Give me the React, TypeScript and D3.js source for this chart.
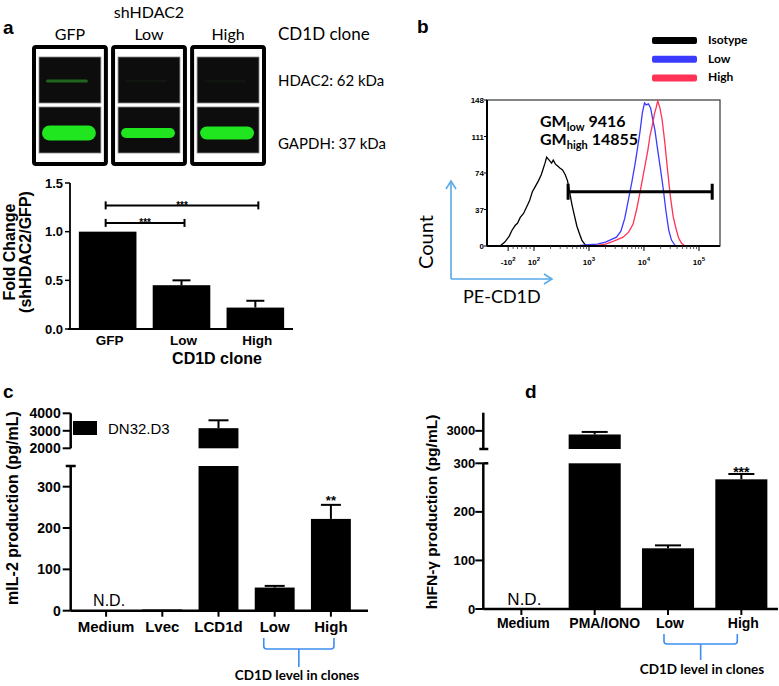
import React from "react";
import * as d3 from "d3";

const ARIAL = "'Liberation Sans', Arial, sans-serif";
const CAL = "Lato, 'Open Sans', sans-serif";

// ---------- Panel a data ----------
const blotLanes = ["GFP", "Low", "High"];
const blotRowLabels = ["HDAC2: 62 kDa", "GAPDH: 37 kDa"];
const hdac2Signal = [0.5, 0.06, 0.05];
const gapdhThickness = [15, 10, 13];

const foldCats = ["GFP", "Low", "High"];
const foldMean = [1.0, 0.45, 0.22];
const foldErr = [0, 0.05, 0.07];
const foldTicks = [0, 0.5, 1.0, 1.5];
const foldSigFrom = [0, 0];
const foldSigTo = [1, 2];
const foldSigLevel = [1.09, 1.27];
const foldSigLabel = ["***", "***"];

// ---------- Panel b data ----------
const flowLegendLabels = ["Isotype", "Low", "High"];
const flowColors = ["#000000", "#3b3bff", "#ff3355"];
const flowYTicks = [0, 37, 74, 111, 148];
const flowXTickPos = [1.53, 2, 3, 4, 5];
const flowXTickBase = ["-10", "10", "10", "10", "10"];
const flowXTickExp = ["2", "2", "3", "4", "5"];
const isotypeHist: [number, number][] = [
  [1.15, 0], [1.38, 0], [1.47, 4], [1.55, 10], [1.6, 16], [1.66, 21], [1.7, 23], [1.75, 29], [1.81, 33],
  [1.87, 40], [1.92, 46], [1.97, 55], [2.02, 60], [2.08, 66], [2.13, 72], [2.16, 77], [2.2, 84],
  [2.23, 90], [2.26, 88], [2.29, 86], [2.32, 84], [2.35, 87], [2.39, 83], [2.43, 81], [2.47, 79],
  [2.52, 77], [2.57, 72], [2.61, 66], [2.65, 54], [2.69, 42], [2.73, 32], [2.78, 20], [2.83, 12],
  [2.87, 6], [2.92, 2], [2.97, 0],
];
const lowHist: [number, number][] = [
  [2.75, 0], [2.95, 1], [3.15, 2], [3.3, 4], [3.42, 7], [3.5, 9], [3.58, 15], [3.65, 28], [3.71, 45],
  [3.78, 65], [3.84, 84], [3.89, 102], [3.93, 117], [3.97, 135], [4.01, 145], [4.04, 143], [4.08, 144],
  [4.12, 140], [4.16, 128], [4.2, 117], [4.25, 97], [4.3, 78], [4.35, 58], [4.4, 35], [4.45, 16],
  [4.5, 6], [4.56, 1], [4.62, 0],
];
const highHist: [number, number][] = [
  [3.1, 0], [3.3, 2], [3.45, 5], [3.62, 9], [3.72, 14], [3.8, 22], [3.87, 38], [3.93, 55], [3.98, 70],
  [4.03, 85], [4.07, 97], [4.11, 112], [4.15, 122], [4.19, 134], [4.22, 140], [4.25, 147], [4.29, 140],
  [4.33, 128], [4.38, 104], [4.43, 76], [4.48, 50], [4.53, 30], [4.58, 18], [4.63, 8], [4.68, 3], [4.74, 0],
];
const gateFrom = 2.62;
const gateTo = 5.24;
const gateCount = 55;
const gmSubs = ["low", "high"];
const gmValues = ["9416", "14855"];

// ---------- Panel c data ----------
const il2Cats = ["Medium", "Lvec", "LCD1d", "Low", "High"];
const il2Mean: (number | null)[] = [null, 3, 3150, 56, 222];
const il2ErrTop: (number | null)[] = [null, null, 3600, 60, 256];
const il2Sig = ["", "", "", "", "**"];
const il2LowTicks = [0, 100, 200, 300];
const il2HighTicks = [2000, 3000, 4000];
const il2Legend = "DN32.D3";

// ---------- Panel d data ----------
const ifnCats = ["Medium", "PMA/IONO", "Low", "High"];
const ifnMean: (number | null)[] = [null, 2900, 125, 267];
const ifnErrTop: (number | null)[] = [null, 2970, 131, 278];
const ifnSig = ["", "", "", "***"];
const ifnLowTicks = [0, 100, 200, 300];
const ifnHighTicks = [3000];

const BRACKET = "#3d8ef0";

function PanelA() {
  const lane = d3.scaleBand<string>().domain(blotLanes).range([32, 266]).paddingInner(0.04);
  const w = lane.bandwidth();
  const x = d3.scaleBand<string>().domain(foldCats).range([70, 293]).paddingInner(0.22).paddingOuter(0.12);
  const y = d3.scaleLinear().domain([0, 1.5]).range([329, 183]);
  const bw = x.bandwidth();
  const cx = (c: string) => x(c)! + bw / 2;
  return (
    <g>
      <text x={3} y={34} fontFamily={ARIAL} fontWeight="bold" fontSize={19}>a</text>
      <text x={lane("Low")! + w / 2} y={18} textAnchor="middle" fontFamily={CAL} fontSize={16}>shHDAC2</text>
      {blotLanes.map((l, i) => {
        const x0 = lane(l)!;
        const th = gapdhThickness[i];
        return (
          <g key={l}>
            <text x={x0 + w / 2} y={40} textAnchor="middle" fontFamily={CAL} fontSize={16}>{l}</text>
            <rect x={x0 + 2} y={47} width={w - 4} height={117} rx={2} fill="#fff" stroke="#000" strokeWidth={4} />
            <rect x={x0 + 7} y={57} width={w - 14} height={46} fill="#0d0d0d" stroke="#888" strokeWidth={0.8} />
            <rect x={x0 + 7} y={107} width={w - 14} height={46} fill="#0d0d0d" stroke="#888" strokeWidth={0.8} />
            <rect x={x0 + 14} y={79.5} width={w - 34} height={3} rx={1.5} fill="#2fbf2f" opacity={hdac2Signal[i]} />
            <rect x={x0 + 10} y={133 - th / 2} width={w - 22} height={th} rx={th / 2} fill="#1fe61f" />
          </g>
        );
      })}
      <text x={278} y={40} fontFamily={CAL} fontSize={17}>CD1D clone</text>
      <text x={278} y={86} fontFamily={CAL} fontSize={15}>{blotRowLabels[0]}</text>
      <text x={278} y={149} fontFamily={CAL} fontSize={15}>{blotRowLabels[1]}</text>

      {foldCats.map((c, i) => (
        <g key={c}>
          <rect x={x(c)} y={y(foldMean[i])} width={bw} height={y(0) - y(foldMean[i])} fill="#000" />
          {foldErr[i] > 0 && (
            <g stroke="#000" strokeWidth={2}>
              <line x1={cx(c)} x2={cx(c)} y1={y(foldMean[i])} y2={y(foldMean[i] + foldErr[i])} />
              <line x1={cx(c) - 9} x2={cx(c) + 9} y1={y(foldMean[i] + foldErr[i])} y2={y(foldMean[i] + foldErr[i])} />
            </g>
          )}
        </g>
      ))}
      {foldSigLevel.map((lv, i) => {
        const xa = cx(foldCats[foldSigFrom[i]]) - 2;
        const xb = cx(foldCats[foldSigTo[i]]) + 3;
        const yy = y(lv);
        return (
          <g key={i}>
            <g stroke="#000" strokeWidth={2}>
              <line x1={xa} x2={xb} y1={yy} y2={yy} />
              <line x1={xa} x2={xa} y1={yy - 4} y2={yy + 4} />
              <line x1={xb} x2={xb} y1={yy - 4} y2={yy + 4} />
            </g>
            <text x={(xa + xb) / 2} y={yy + 3.5} textAnchor="middle" fontFamily={ARIAL} fontWeight="bold" fontSize={10}>{foldSigLabel[i]}</text>
          </g>
        );
      })}
      <line x1={70} x2={70} y1={183} y2={329} stroke="#000" strokeWidth={1.8} />
      <line x1={68} x2={293} y1={329} y2={329} stroke="#000" strokeWidth={1.8} />
      {foldTicks.map((t) => (
        <g key={t}>
          <line x1={65} x2={70} y1={y(t)} y2={y(t)} stroke="#000" strokeWidth={1.5} />
          <text x={63} y={y(t) + 4.5} textAnchor="end" fontFamily={ARIAL} fontWeight="bold" fontSize={13}>{t.toFixed(1)}</text>
        </g>
      ))}
      {foldCats.map((c) => (
        <text key={c} x={cx(c) + 2} y={345} textAnchor="middle" fontFamily={ARIAL} fontWeight="bold" fontSize={13.5}>{c}</text>
      ))}
      <text x={217} y={364} textAnchor="middle" fontFamily={ARIAL} fontWeight="bold" fontSize={16}>CD1D clone</text>
      <text transform="translate(15,252) rotate(-90)" textAnchor="middle" fontFamily={ARIAL} fontWeight="bold" fontSize={16}>Fold Change</text>
      <text transform="translate(31,252) rotate(-90)" textAnchor="middle" fontFamily={ARIAL} fontWeight="bold" fontSize={16}>(shHDAC2/GFP)</text>
    </g>
  );
}

function PanelB() {
  const x = d3.scaleLinear().domain([1.1455, 5.382]).range([487, 720]);
  const y = d3.scaleLinear().domain([0, 148]).range([246, 100]);
  const line = d3.line<[number, number]>().x((d) => x(d[0])).y((d) => y(d[1]));
  const hists = [isotypeHist, lowHist, highHist];
  const minor: number[] = [];
  [2, 3, 4].forEach((dd) => d3.range(2, 10).forEach((k) => minor.push(dd + Math.log10(k))));
  [1.62, 1.7, 1.78, 1.86, 1.93].forEach((v) => minor.push(v));
  return (
    <g>
      <text x={417} y={33} fontFamily={ARIAL} fontWeight="bold" fontSize={19}>b</text>
      {flowLegendLabels.map((l, i) => (
        <g key={l}>
          <rect x={652} y={37 + i * 18.7} width={45} height={7} rx={2} fill={flowColors[i]} />
          <text x={708} y={44 + i * 18.7} fontFamily={CAL} fontWeight="bold" fontSize={12}>{l}</text>
        </g>
      ))}
      <rect x={487} y={100} width={233} height={146} fill="none" stroke="#444" strokeWidth={1.3} />
      {hists.map((h, i) => (
        <path key={i} d={line(h)!} fill="none" stroke={flowColors[i]} strokeWidth={1.3} />
      ))}
      <line x1={487} x2={487} y1={100} y2={246} stroke="#000" strokeWidth={2} />
      <line x1={487} x2={720} y1={246} y2={246} stroke="#000" strokeWidth={2} />
      {flowYTicks.map((t) => (
        <g key={t}>
          <line x1={484} x2={487} y1={y(t)} y2={y(t)} stroke="#000" strokeWidth={1} />
          <text x={484} y={y(t) + 3} textAnchor="end" fontFamily={ARIAL} fontWeight="bold" fontSize={8}>{t}</text>
        </g>
      ))}
      {minor.map((m, i) => (
        <line key={i} x1={x(m)} x2={x(m)} y1={246} y2={249} stroke="#333" strokeWidth={0.8} />
      ))}
      {flowXTickPos.map((p, i) => (
        <g key={i}>
          <line x1={x(p)} x2={x(p)} y1={246} y2={251} stroke="#000" strokeWidth={1} />
          <text x={x(p)} y={265} textAnchor="middle" fontFamily={ARIAL} fontWeight="bold" fontSize={8}>
            {flowXTickBase[i]}
            <tspan fontSize={6} dy={-4}>{flowXTickExp[i]}</tspan>
          </text>
        </g>
      ))}
      <g stroke="#000" strokeWidth={3}>
        <line x1={x(gateFrom)} x2={x(gateTo)} y1={y(gateCount)} y2={y(gateCount)} />
        <line x1={x(gateFrom)} x2={x(gateFrom)} y1={y(gateCount) - 8} y2={y(gateCount) + 8} />
        <line x1={x(gateTo)} x2={x(gateTo)} y1={y(gateCount) - 8} y2={y(gateCount) + 8} />
      </g>
      {gmSubs.map((s, i) => (
        <text key={s} x={540} y={127 + i * 18} fontFamily={CAL} fontWeight="bold" fontSize={16}>
          GM<tspan fontSize={11} dy={4}>{s}</tspan>
          <tspan dy={-4}> {gmValues[i]}</tspan>
        </text>
      ))}
      <g stroke="#5aaae8" strokeWidth={1.6} fill="none">
        <line x1={451} x2={451} y1={279} y2={181} />
        <polyline points="446,189 451,181 456,189" />
        <line x1={451} x2={552} y1={279} y2={279} />
        <polyline points="544,274 552,279 544,284" />
      </g>
      <text transform="translate(433,242) rotate(-90)" textAnchor="middle" fontFamily={CAL} fontSize={20}>Count</text>
      <text x={463} y={303} fontFamily={CAL} fontSize={18}>PE-CD1D</text>
    </g>
  );
}

function Bracket({ xl, xr, y0, y1, y2 }: { xl: number; xr: number; y0: number; y1: number; y2: number }) {
  const xm = (xl + xr) / 2;
  const r = 3;
  const d = `M${xl},${y0} L${xl},${y1 - r} Q${xl},${y1} ${xl + r},${y1} L${xr - r},${y1} Q${xr},${y1} ${xr},${y1 - r} L${xr},${y0} M${xm},${y1} L${xm},${y2}`;
  return <path d={d} fill="none" stroke={BRACKET} strokeWidth={1.6} />;
}

function PanelC() {
  const x = d3.scaleBand<string>().domain(il2Cats).range([78, 359]).paddingInner(0.29).paddingOuter(0.145);
  const yLo = d3.scaleLinear().domain([0, 350]).range([610.7, 466]);
  const yHi = d3.scaleLinear().domain([2000, 4000]).range([448.3, 413.3]);
  const bw = x.bandwidth();
  const ax = 70.7;
  const ys = (v: number) => (v > 350 ? yHi(v) : yLo(v));
  return (
    <g>
      <text x={3} y={398} fontFamily={ARIAL} fontWeight="bold" fontSize={19}>c</text>
      {il2Cats.map((c, i) => {
        const v = il2Mean[i];
        const x0 = x(c)!;
        const cx = x0 + bw / 2;
        if (v == null) return null;
        const e = il2ErrTop[i];
        return (
          <g key={c}>
            {v > 350 ? (
              <>
                <rect x={x0} y={yLo(350)} width={bw} height={yLo(0) - yLo(350)} fill="#000" />
                <rect x={x0} y={yHi(v)} width={bw} height={yHi(2000) - yHi(v)} fill="#000" />
              </>
            ) : (
              <rect x={x0} y={yLo(v)} width={bw} height={Math.max(1.5, yLo(0) - yLo(v))} fill="#000" />
            )}
            {e != null && (
              <g stroke="#000" strokeWidth={2}>
                <line x1={cx} x2={cx} y1={ys(v)} y2={ys(e)} />
                <line x1={cx - 10} x2={cx + 10} y1={ys(e)} y2={ys(e)} />
              </g>
            )}
            {il2Sig[i] && e != null && (
              <text x={cx} y={ys(e)} textAnchor="middle" fontFamily={ARIAL} fontWeight="bold" fontSize={13}>{il2Sig[i]}</text>
            )}
          </g>
        );
      })}
      <g stroke="#000" strokeWidth={2.5}>
        <line x1={ax} x2={ax} y1={yHi(4000)} y2={yHi(2000)} />
        <line x1={ax} x2={ax} y1={yLo(350)} y2={yLo(0)} />
        <line x1={ax - 5} x2={ax + 5} y1={yLo(350)} y2={yLo(350)} />
        <line x1={ax} x2={368} y1={yLo(0)} y2={yLo(0)} />
      </g>
      {il2LowTicks.map((t) => (
        <g key={t}>
          <line x1={ax - 8} x2={ax} y1={yLo(t)} y2={yLo(t)} stroke="#000" strokeWidth={2} />
          <text x={ax - 10} y={yLo(t) + 5} textAnchor="end" fontFamily={ARIAL} fontWeight="bold" fontSize={14}>{t}</text>
        </g>
      ))}
      {il2HighTicks.map((t) => (
        <g key={t}>
          <line x1={ax - 8} x2={ax} y1={yHi(t)} y2={yHi(t)} stroke="#000" strokeWidth={2} />
          <text x={ax - 10} y={yHi(t) + 5} textAnchor="end" fontFamily={ARIAL} fontWeight="bold" fontSize={14}>{t}</text>
        </g>
      ))}
      {il2Cats.map((c) => (
        <g key={c}>
          <line x1={x(c)! + bw / 2} x2={x(c)! + bw / 2} y1={yLo(0)} y2={yLo(0) + 6} stroke="#000" strokeWidth={2} />
          <text x={x(c)! + bw / 2} y={632} textAnchor="middle" fontFamily={ARIAL} fontWeight="bold" fontSize={15}>{c}</text>
        </g>
      ))}
      <text x={x("Medium")! + bw / 2 + 3} y={606} textAnchor="middle" fontFamily={ARIAL} fontSize={16}>N.D.</text>
      <rect x={73} y={421} width={24} height={14} fill="#000" />
      <text x={108} y={434} fontFamily={ARIAL} fontSize={15}>{il2Legend}</text>
      <text transform="translate(18,508) rotate(-90)" textAnchor="middle" fontFamily={ARIAL} fontWeight="bold" fontSize={16}>mIL-2 production (pg/mL)</text>
      <Bracket xl={x("Low")! + 9} xr={x("High")! + 23} y0={638} y1={649} y2={667} />
      <text x={297} y={680} textAnchor="middle" fontFamily={CAL} fontWeight="bold" fontSize={13.5}>CD1D level in clones</text>
    </g>
  );
}

function PanelD() {
  const x = d3.scaleBand<string>().domain(ifnCats).range([484.7, 778]).paddingInner(0.29).paddingOuter(0.145);
  const yLo = d3.scaleLinear().domain([0, 300]).range([609, 463.3]);
  const yHi = d3.scaleLinear().domain([2500, 3500]).range([449, 412.7]);
  const bw = x.bandwidth();
  const ax = 483.3;
  const ys = (v: number) => (v > 300 ? yHi(v) : yLo(v));
  return (
    <g>
      <text x={525} y={398} fontFamily={ARIAL} fontWeight="bold" fontSize={19}>d</text>
      {ifnCats.map((c, i) => {
        const v = ifnMean[i];
        const x0 = x(c)!;
        const cx = x0 + bw / 2;
        if (v == null) return null;
        const e = ifnErrTop[i];
        return (
          <g key={c}>
            {v > 300 ? (
              <>
                <rect x={x0} y={yLo(300)} width={bw} height={yLo(0) - yLo(300)} fill="#000" />
                <rect x={x0} y={yHi(v)} width={bw} height={yHi(2500) - yHi(v)} fill="#000" />
              </>
            ) : (
              <rect x={x0} y={yLo(v)} width={bw} height={yLo(0) - yLo(v)} fill="#000" />
            )}
            {e != null && (
              <g stroke="#000" strokeWidth={2}>
                <line x1={cx} x2={cx} y1={ys(v)} y2={ys(e)} />
                <line x1={cx - 13} x2={cx + 13} y1={ys(e)} y2={ys(e)} />
              </g>
            )}
            {ifnSig[i] && e != null && (
              <text x={cx} y={ys(e) + 3.5} textAnchor="middle" fontFamily={ARIAL} fontWeight="bold" fontSize={14}>{ifnSig[i]}</text>
            )}
          </g>
        );
      })}
      <g stroke="#000" strokeWidth={2.5}>
        <line x1={ax} x2={ax} y1={yHi(3500)} y2={yHi(2500)} />
        <line x1={ax - 4} x2={ax + 5} y1={yHi(2500)} y2={yHi(2500)} />
        <line x1={ax} x2={ax} y1={yLo(300)} y2={yLo(0)} />
        <line x1={ax} x2={ax + 5} y1={yLo(300)} y2={yLo(300)} />
        <line x1={ax} x2={778} y1={yLo(0)} y2={yLo(0)} />
      </g>
      {ifnLowTicks.map((t) => (
        <g key={t}>
          <line x1={ax - 8} x2={ax} y1={yLo(t)} y2={yLo(t)} stroke="#000" strokeWidth={2} />
          <text x={ax - 8} y={yLo(t) + 4.5} textAnchor="end" fontFamily={ARIAL} fontWeight="bold" fontSize={13}>{t}</text>
        </g>
      ))}
      {ifnHighTicks.map((t) => (
        <g key={t}>
          <line x1={ax - 8} x2={ax} y1={yHi(t)} y2={yHi(t)} stroke="#000" strokeWidth={2} />
          <text x={ax - 8} y={yHi(t) + 4.5} textAnchor="end" fontFamily={ARIAL} fontWeight="bold" fontSize={13}>{t}</text>
        </g>
      ))}
      {ifnCats.map((c) => (
        <g key={c}>
          <line x1={x(c)! + bw / 2} x2={x(c)! + bw / 2} y1={yLo(0)} y2={yLo(0) + 6} stroke="#000" strokeWidth={2} />
          <text x={x(c)! + bw / 2 + (c === "PMA/IONO" ? 10 : 2)} y={628} textAnchor="middle" fontFamily={ARIAL} fontWeight="bold" fontSize={14}>{c}</text>
        </g>
      ))}
      <text x={x("Medium")! + bw / 2 + 3} y={605} textAnchor="middle" fontFamily={ARIAL} fontSize={17}>N.D.</text>
      <text transform="translate(437,512) rotate(-90)" textAnchor="middle" fontFamily={ARIAL} fontWeight="bold" fontSize={15.5}>hIFN-γ production (pg/mL)</text>
      <Bracket xl={x("Low")! + 22} xr={x("High")! + 22} y0={634} y1={644} y2={660} />
      <text x={702} y={674} textAnchor="middle" fontFamily={CAL} fontWeight="bold" fontSize={13.5}>CD1D level in clones</text>
    </g>
  );
}

export default function App() {
  return (
    <svg width={779} height={686} style={{ position: "absolute", left: 0, top: 0, background: "#fff" }}>
      <rect width={779} height={686} fill="#fff" />
      <PanelA />
      <PanelB />
      <PanelC />
      <PanelD />
    </svg>
  );
}
